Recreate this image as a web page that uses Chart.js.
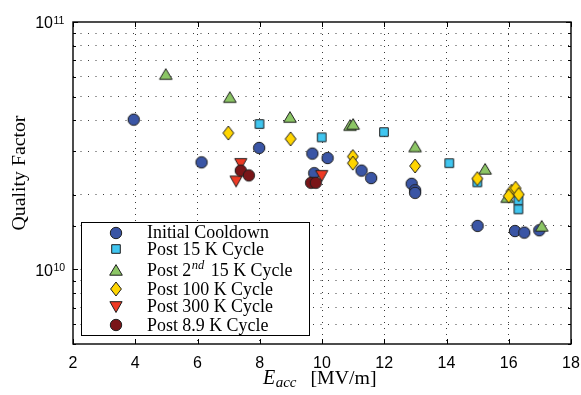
<!DOCTYPE html>
<html><head><meta charset="utf-8">
<script src="https://cdn.jsdelivr.net/npm/chart.js@4/dist/chart.umd.min.js"></script>
<style>html,body{margin:0;padding:0;background:#fff}canvas{display:block}</style>
</head><body>
<canvas id="c" width="581" height="395"></canvas>
<script>
// ---------- data ----------
const seriesNames = ['Initial Cooldown', 'Post 15 K Cycle', 'Post 2nd 15 K Cycle', 'Post 100 K Cycle', 'Post 300 K Cycle', 'Post 8.9 K Cycle'];

const initialX = [3.95, 6.13, 7.98, 9.69, 10.18, 9.75, 11.27, 11.58, 12.88, 12.99, 12.99, 15.0, 16.2, 16.5, 16.98];
const initialY = [4.03e10, 2.71e10, 3.10e10, 2.94e10, 2.82e10, 2.45e10, 2.51e10, 2.34e10, 2.22e10, 2.09e10, 2.04e10, 1.50e10, 1.43e10, 1.41e10, 1.44e10];

const post15X = [7.99, 9.99, 11.99, 14.09, 14.99, 16.31, 16.31];
const post15Y = [3.87e10, 3.42e10, 3.59e10, 2.69e10, 2.25e10, 1.90e10, 1.75e10];

const post2ndX = [4.98, 7.04, 8.97, 10.9, 11.0, 12.99, 15.24, 15.95, 17.06];
const post2ndY = [6.16e10, 4.97e10, 4.13e10, 3.83e10, 3.87e10, 3.14e10, 2.55e10, 1.96e10, 1.50e10];

const post100X = [6.99, 8.99, 10.99, 10.99, 12.99, 14.99, 16.09, 16.22, 16.32, 16.0];
const post100Y = [3.56e10, 3.37e10, 2.86e10, 2.69e10, 2.62e10, 2.33e10, 2.07e10, 2.13e10, 2.01e10, 1.98e10];

const post300X = [7.39, 7.24, 9.99];
const post300Y = [2.67e10, 2.27e10, 2.39e10];

const post89X = [7.39, 7.65, 9.65, 9.8];
const post89Y = [2.51e10, 2.40e10, 2.24e10, 2.24e10];

const xTickValues = [2, 4, 6, 8, 10, 12, 14, 16, 18];
const yLabelValues = [1e10, 1e11];

// ---------- styles ----------
const seriesColors = ['#3A55A5', '#40C6F0', '#8CC665', '#FFD500', '#EE3A24', '#7A1518'];
const seriesShapes = ['circle', 'square', 'tri', 'diamond', 'tridown', 'circle'];

function makeMarker(shape, fill) {
  const s = 18, m = 9;
  const c = document.createElement('canvas');
  c.width = s; c.height = s;
  const g = c.getContext('2d');
  g.beginPath();
  if (shape === 'circle') g.arc(m, m, 5.7, 0, 2 * Math.PI);
  else if (shape === 'square') g.rect(m - 4.3, m - 4.3, 8.6, 8.6);
  else if (shape === 'tri') { g.moveTo(m, m - 5.4); g.lineTo(m + 6.3, m + 5.2); g.lineTo(m - 6.3, m + 5.2); g.closePath(); }
  else if (shape === 'tridown') { g.moveTo(m - 6.1, m - 5.3); g.lineTo(m + 6.1, m - 5.3); g.lineTo(m, m + 5.5); g.closePath(); }
  else if (shape === 'diamond') { g.moveTo(m, m - 7); g.lineTo(m + 5.4, m); g.lineTo(m, m + 7); g.lineTo(m - 5.4, m); g.closePath(); }
  g.fillStyle = fill; g.fill();
  g.lineWidth = 1; g.strokeStyle = '#1e1e1e'; g.stroke();
  return c;
}
const markers = seriesShapes.map((s, i) => makeMarker(s, seriesColors[i]));

const seriesXs = [initialX, post15X, post2ndX, post100X, post300X, post89X];
const seriesYs = [initialY, post15Y, post2ndY, post100Y, post300Y, post89Y];

const datasets = seriesNames.map((name, i) => ({
  label: name,
  data: seriesXs[i].map((x, j) => ({ x: x, y: seriesYs[i][j] })),
  pointStyle: markers[i],
  pointRadius: 6,
  order: seriesNames.length - i,
  showLine: false
}));

const SANS = '"Liberation Sans", Arial, sans-serif';
const SERIF = '"Liberation Serif", "Times New Roman", serif';

function fitSize(ctx, text, target, style) {
  ctx.font = style + ' 20px ' + SERIF;
  return 20 * target / ctx.measureText(text).width;
}

const decorPlugin = {
  id: 'decor',
  afterDraw(chart) {
    const { ctx, chartArea: a, scales } = chart;
    const xs = scales.x, ys = scales.y;
    ctx.save();

    // ---- legend ----
    const lb = { l: 81, t: 222, r: 309, b: 335 };
    ctx.fillStyle = '#fff';
    ctx.fillRect(lb.l, lb.t, lb.r - lb.l, lb.b - lb.t);
    ctx.strokeStyle = '#000'; ctx.lineWidth = 1;
    ctx.strokeRect(lb.l + 0.5, lb.t + 0.5, lb.r - lb.l, lb.b - lb.t);
    const rowY = [232.7, 249.3, 270, 289, 306.7, 325];
    const fs = fitSize(ctx, seriesNames[0], 122, '');
    seriesNames.forEach((name, i) => {
      ctx.drawImage(markers[i], Math.round(115.7) - 9, Math.round(rowY[i]) - 9);
      const base = rowY[i] + 5.6;
      ctx.fillStyle = '#000';
      ctx.textBaseline = 'alphabetic'; ctx.textAlign = 'left';
      const m = name.match(/^(.*?\d)(st|nd|rd|th)(\s.*)$/);
      let xx = 147;
      if (m) {
        ctx.font = fs + 'px ' + SERIF;
        ctx.fillText(m[1], xx, base); xx += ctx.measureText(m[1]).width + 0.5;
        ctx.font = 'italic ' + (fs * 0.7) + 'px ' + SERIF;
        ctx.fillText(m[2], xx, base - 6.5); xx += ctx.measureText(m[2]).width;
        ctx.font = fs + 'px ' + SERIF;
        ctx.fillText(m[3], xx + 2, base);
      } else {
        ctx.font = fs + 'px ' + SERIF;
        ctx.fillText(name, xx, base);
      }
    });

    // ---- tick marks ----
    ctx.strokeStyle = '#000'; ctx.lineWidth = 1;
    ctx.beginPath();
    xs.ticks.forEach(t => {
      const px = Math.round(xs.getPixelForValue(t.value)) + 0.5;
      ctx.moveTo(px, a.bottom); ctx.lineTo(px, a.bottom - 5);
      ctx.moveTo(px, a.top); ctx.lineTo(px, a.top + 5);
    });
    ys.ticks.forEach(t => {
      const lg = Math.log10(t.value);
      const major = Math.abs(lg - Math.round(lg)) < 1e-9;
      const L = major ? 5 : 3;
      const py = Math.round(ys.getPixelForValue(t.value)) + 0.5;
      ctx.moveTo(a.left, py); ctx.lineTo(a.left + L, py);
      ctx.moveTo(a.right, py); ctx.lineTo(a.right - L, py);
    });
    ctx.stroke();

    // ---- frame ----
    ctx.lineWidth = 1.4;
    ctx.strokeRect(a.left, a.top, a.right - a.left, a.bottom - a.top);

    // ---- x tick labels ----
    ctx.fillStyle = '#000';
    ctx.font = '16px ' + SANS;
    ctx.textAlign = 'center'; ctx.textBaseline = 'alphabetic';
    xTickValues.forEach(v => {
      ctx.fillText(String(v), xs.getPixelForValue(v), a.bottom + 24);
    });

    // ---- y tick labels (10^n) ----
    yLabelValues.forEach(v => {
      const py = ys.getPixelForValue(v);
      const e = String(Math.round(Math.log10(v)));
      ctx.textBaseline = 'alphabetic';
      ctx.font = '16px ' + SANS;
      ctx.textAlign = 'right';
      ctx.fillText('10', 53, py + 6.3);
      ctx.font = '10.5px ' + SANS;
      ctx.textAlign = 'left';
      ctx.fillText(e, 53.5, py + 1.5);
    });

    // ---- x axis title: E_acc [MV/m] ----
    const xb = 383.5;
    ctx.textAlign = 'left'; ctx.textBaseline = 'alphabetic';
    ctx.font = 'italic 20px ' + SERIF;
    ctx.fillText('E', 263, xb);
    const ew = ctx.measureText('E').width;
    ctx.font = 'italic 15px ' + SERIF;
    ctx.fillText('acc', 263 + ew + 0.5, xb + 3.5);
    const bw = fitSize(ctx, '[MV/m]', 66, '');
    ctx.font = bw + 'px ' + SERIF;
    ctx.fillText('[MV/m]', 310.5, xb);

    // ---- y axis title ----
    const ysz = fitSize(ctx, 'Quality Factor', 115, '');
    ctx.font = ysz + 'px ' + SERIF;
    ctx.translate(25, 173);
    ctx.rotate(-Math.PI / 2);
    ctx.textAlign = 'center';
    ctx.fillText('Quality Factor', 0, 0);
    ctx.restore();
  }
};

new Chart(document.getElementById('c'), {
  type: 'scatter',
  data: { datasets: datasets },
  options: {
    responsive: false,
    animation: false,
    devicePixelRatio: 1,
    layout: { padding: { left: 73, top: 22, right: 10, bottom: 51 } },
    plugins: { legend: { display: false }, tooltip: { enabled: false } },
    scales: {
      x: {
        type: 'linear', min: 2, max: 18,
        afterBuildTicks: s => { s.ticks = xTickValues.map(v => ({ value: v })); },
        ticks: { display: false, autoSkip: false },
        grid: {
          drawTicks: false,
          color: ctx => (ctx.tick && (ctx.tick.value === 2 || ctx.tick.value === 18)) ? 'rgba(0,0,0,0)' : '#3a3a3a',
          lineWidth: 1
        },
        border: { display: false, dash: [1, 5] }
      },
      y: {
        type: 'logarithmic', min: 5e9, max: 1e11,
        ticks: { display: false, autoSkip: false },
        grid: {
          drawTicks: false,
          color: ctx => {
            const v = ctx.tick && ctx.tick.value;
            return (v === 5e9 || v === 1e11) ? 'rgba(0,0,0,0)' : '#3a3a3a';
          },
          lineWidth: 1
        },
        border: { display: false, dash: [1, 6.5] }
      }
    }
  },
  plugins: [decorPlugin]
});
</script>
</body></html>
